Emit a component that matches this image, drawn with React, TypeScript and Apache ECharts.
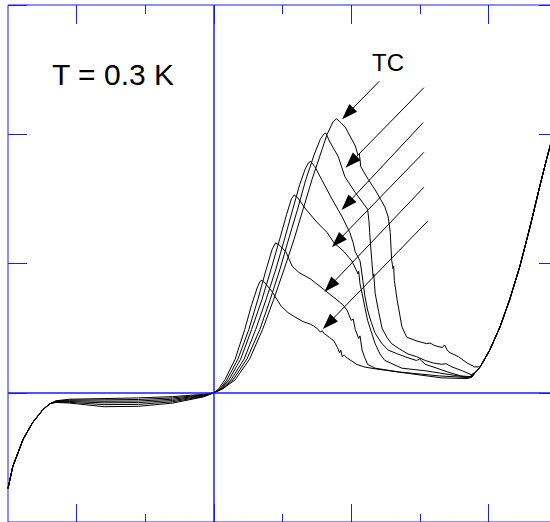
import React, { useEffect, useRef } from 'react';
import * as echarts from 'echarts';

const X_MIN = -3;
const X_MAX = 5;
const Y_MIN = -1;
const Y_MAX = 3;
const majorXTicks = [-2, 0, 2, 4];
const minorXTicks = [-1, 1, 3];

const titleText = 'T = 0.3 K';
const arrowLabel = 'TC';

// shared steep branch on the negative side
const leftBranch: number[][] = [
  [-3.0, -0.74], [-2.93, -0.57], [-2.78, -0.36], [-2.64, -0.23], [-2.49, -0.13], [-2.39, -0.085],
];

// flat (gap) region, per curve
const flat1 = [[-2.3, -0.075], [-2.1, -0.08], [-1.6, -0.108], [-1.1, -0.105], [-0.6, -0.08], [-0.15, -0.032], [0, 0]];
const flat2 = [[-2.3, -0.072], [-2.1, -0.074], [-1.6, -0.092], [-1.1, -0.09], [-0.6, -0.07], [-0.15, -0.028], [0, 0]];
const flat3 = [[-2.3, -0.07], [-2.1, -0.068], [-1.6, -0.078], [-1.1, -0.076], [-0.6, -0.06], [-0.15, -0.024], [0, 0]];
const flat4 = [[-2.3, -0.068], [-2.1, -0.062], [-1.6, -0.066], [-1.1, -0.064], [-0.6, -0.05], [-0.15, -0.02], [0, 0]];
const flat5 = [[-2.3, -0.065], [-2.1, -0.056], [-1.6, -0.055], [-1.1, -0.052], [-0.6, -0.04], [-0.15, -0.016], [0, 0]];
const flat6 = [[-2.3, -0.062], [-2.1, -0.05], [-1.6, -0.045], [-1.1, -0.04], [-0.6, -0.03], [-0.15, -0.012], [0, 0]];

// coherence peak region, per curve
const peak1 = [
  [0.13, 0.03], [0.31, 0.1], [0.52, 0.26], [0.71, 0.49], [0.87, 0.72], [1.02, 0.95], [1.17, 1.19], [1.3, 1.42],
  [1.43, 1.65], [1.55, 1.84], [1.65, 2.0], [1.74, 2.1], [1.79, 2.12], [1.85, 2.09], [1.92, 2.05], [2.06, 1.91],
  [2.1, 1.84], [2.12, 1.85], [2.14, 1.75], [2.25, 1.65], [2.35, 1.57], [2.49, 1.44], [2.54, 1.36], [2.57, 1.24],
  [2.59, 1.03], [2.61, 0.96], [2.62, 0.98], [2.63, 0.87], [2.67, 0.72], [2.71, 0.6], [2.74, 0.51], [2.81, 0.43],
  [2.96, 0.4], [3.1, 0.38], [3.15, 0.385], [3.2, 0.37], [3.25, 0.36], [3.33, 0.35], [3.36, 0.37], [3.4, 0.33],
  [3.44, 0.31], [3.56, 0.28], [3.69, 0.23], [3.8, 0.2], [3.88, 0.2],
];
const peak2 = [
  [0.12, 0.03], [0.28, 0.1], [0.48, 0.26], [0.67, 0.49], [0.82, 0.72], [0.96, 0.95], [1.09, 1.19], [1.22, 1.42],
  [1.34, 1.65], [1.46, 1.84], [1.55, 1.96], [1.6, 2.0], [1.63, 2.01], [1.69, 1.94], [1.81, 1.83], [1.91, 1.67],
  [2.06, 1.55], [2.17, 1.47], [2.24, 1.42], [2.26, 1.33], [2.27, 1.24], [2.3, 1.03], [2.32, 0.9], [2.33, 0.92],
  [2.35, 0.77], [2.4, 0.63], [2.45, 0.5], [2.52, 0.43], [2.59, 0.38], [2.7, 0.34], [2.83, 0.3], [2.95, 0.28],
  [3.08, 0.25], [3.2, 0.23], [3.32, 0.22], [3.38, 0.225], [3.47, 0.2], [3.62, 0.17], [3.75, 0.14], [3.82, 0.16],
];
const peak3 = [
  [0.11, 0.03], [0.25, 0.1], [0.44, 0.26], [0.61, 0.49], [0.76, 0.72], [0.9, 0.95], [1.03, 1.19], [1.15, 1.42],
  [1.25, 1.61], [1.33, 1.73], [1.38, 1.78], [1.41, 1.79], [1.47, 1.75], [1.57, 1.65], [1.72, 1.5], [1.87, 1.36],
  [1.98, 1.24], [2.03, 1.16], [2.06, 1.09], [2.13, 1.02], [2.15, 0.95], [2.17, 0.87], [2.2, 0.75], [2.24, 0.64],
  [2.29, 0.55], [2.35, 0.46], [2.45, 0.38], [2.54, 0.33], [2.68, 0.3], [2.83, 0.27], [2.95, 0.25], [3.0, 0.26],
  [3.03, 0.245], [3.08, 0.22], [3.25, 0.19], [3.41, 0.16], [3.6, 0.13], [3.73, 0.125], [3.8, 0.15],
];
const peak4 = [
  [0.1, 0.03], [0.22, 0.1], [0.39, 0.26], [0.55, 0.49], [0.7, 0.72], [0.83, 0.95], [0.96, 1.19], [1.06, 1.38],
  [1.13, 1.5], [1.17, 1.53], [1.22, 1.51], [1.34, 1.42], [1.5, 1.32], [1.65, 1.24], [1.75, 1.16], [1.9, 1.09],
  [2.01, 1.02], [2.1, 0.92], [2.11, 0.94], [2.13, 0.84], [2.16, 0.77], [2.2, 0.66], [2.24, 0.56], [2.3, 0.46],
  [2.35, 0.38], [2.42, 0.3], [2.49, 0.25], [2.74, 0.19], [3.08, 0.17], [3.44, 0.14], [3.69, 0.12], [3.76, 0.127],
  [3.8, 0.15],
];
const peak5 = [
  [0.09, 0.03], [0.19, 0.1], [0.35, 0.26], [0.51, 0.49], [0.64, 0.72], [0.76, 0.95], [0.85, 1.11], [0.9, 1.16],
  [0.96, 1.14], [1.05, 1.09], [1.14, 0.98], [1.24, 0.93], [1.41, 0.88], [1.6, 0.8], [1.79, 0.72], [1.88, 0.68],
  [1.94, 0.64], [2.0, 0.56], [2.03, 0.57], [2.06, 0.49], [2.11, 0.42], [2.13, 0.44], [2.16, 0.33], [2.2, 0.27],
  [2.24, 0.22], [2.35, 0.19], [2.71, 0.16], [3.29, 0.13], [3.69, 0.118], [3.76, 0.125], [3.8, 0.15],
];
const peak6 = [
  [0.07, 0.03], [0.16, 0.1], [0.31, 0.26], [0.45, 0.49], [0.55, 0.68], [0.63, 0.81], [0.67, 0.86], [0.7, 0.87],
  [0.76, 0.84], [0.85, 0.78], [0.98, 0.67], [1.08, 0.62], [1.17, 0.59], [1.3, 0.55], [1.41, 0.53], [1.5, 0.5],
  [1.55, 0.47], [1.58, 0.48], [1.6, 0.46], [1.68, 0.43], [1.75, 0.4], [1.8, 0.35], [1.83, 0.31], [1.85, 0.33],
  [1.87, 0.28], [1.9, 0.29], [1.94, 0.27], [2.08, 0.22], [2.19, 0.2], [2.35, 0.185], [2.83, 0.15], [3.32, 0.115],
  [3.69, 0.11], [3.76, 0.12], [3.8, 0.15],
];

// shared steep branch on the positive side
const rightBranch: number[][] = [
  [3.88, 0.2], [4.02, 0.33], [4.17, 0.51], [4.31, 0.72], [4.46, 0.98], [4.61, 1.29], [4.75, 1.6], [4.85, 1.81],
  [4.9, 1.91], [5.0, 2.14],
];

// annotation arrows: [start, head centre]
const arrowStarts = [[2.41, 2.41], [3.06, 2.36], [3.05, 2.09], [3.06, 1.86], [3.06, 1.59], [3.12, 1.33]];
const arrowEnds = [[1.95, 2.16], [2.0, 1.785], [1.94, 1.46], [1.8, 1.17], [1.69, 0.825], [1.67, 0.537]];

const flats = [flat1, flat2, flat3, flat4, flat5, flat6];
const peaks = [peak1, peak2, peak3, peak4, peak5, peak6];

const BLUE = '#1a1aff';

export default function App() {
  const ref = useRef<HTMLDivElement>(null);

  useEffect(() => {
    if (!ref.current) return;
    const chart = echarts.init(ref.current, null, { renderer: 'svg' });

    const curveSeries = flats.map((f, i) => {
      const data = [...leftBranch, ...f, ...peaks[i], ...rightBranch];
      return {
        type: 'line',
        name: 'c' + (i + 1),
        data,
        xAxisIndex: 0,
        yAxisIndex: 0,
        showSymbol: false,
        symbol: 'none',
        lineStyle: { color: '#000', width: 1 },
        silent: true,
        z: 3,
      } as any;
    });

    const arrowLines = arrowStarts.map((s, i) => [
      { coord: s, symbol: 'none' },
      { coord: arrowEnds[i], symbol: 'triangle', symbolSize: [11, 16] },
    ]);

    const markerSeries = {
      type: 'line',
      data: [],
      xAxisIndex: 0,
      yAxisIndex: 0,
      silent: true,
      markLine: {
        silent: true,
        animation: false,
        symbol: 'none',
        label: { show: false },
        emphasis: { disabled: true },
        lineStyle: { color: '#000', width: 1, type: 'solid' },
        data: [
          { xAxis: 0, lineStyle: { color: BLUE, width: 1.5, type: 'solid' } },
          { yAxis: 0, lineStyle: { color: BLUE, width: 1.5, type: 'solid' } },
          ...arrowLines,
        ],
      },
    } as any;

    const xBase = {
      type: 'value',
      min: X_MIN,
      max: X_MAX,
      axisLine: { show: false, onZero: false },
      axisLabel: { show: false },
      splitLine: { show: false },
    };
    const yBase = {
      type: 'value',
      min: Y_MIN,
      max: Y_MAX,
      interval: 1,
      axisLine: { show: false, onZero: false },
      axisLabel: { show: false },
      splitLine: { show: false },
      axisTick: { show: true, inside: true, length: 19, lineStyle: { color: BLUE, width: 1 } },
    };

    chart.setOption({
      animation: false,
      backgroundColor: '#fff',
      grid: {
        left: 8,
        top: 5,
        width: 549,
        height: 517,
        show: true,
        borderColor: BLUE,
        borderWidth: 1,
        backgroundColor: 'transparent',
        containLabel: false,
        outerBoundsMode: 'none',
      },
      xAxis: [
        { ...xBase, position: 'bottom', axisTick: { show: true, inside: true, length: 18, customValues: majorXTicks, lineStyle: { color: BLUE } } },
        { ...xBase, position: 'bottom', axisTick: { show: true, inside: true, length: 8, customValues: minorXTicks, lineStyle: { color: BLUE } } },
        { ...xBase, position: 'top', axisTick: { show: true, inside: true, length: 19, customValues: majorXTicks, lineStyle: { color: BLUE } } },
        { ...xBase, position: 'top', axisTick: { show: true, inside: true, length: 9, customValues: minorXTicks, lineStyle: { color: BLUE } } },
      ],
      yAxis: [
        { ...yBase, position: 'left' },
        { ...yBase, position: 'right', axisTick: { ...yBase.axisTick, length: 18 } },
      ],
      graphic: [
        {
          type: 'text',
          x: 52,
          y: 74,
          silent: true,
          style: {
            text: titleText,
            font: '30px "Liberation Sans", Arial, sans-serif',
            fill: '#000',
            align: 'left',
            verticalAlign: 'middle',
          },
        },
        {
          type: 'text',
          x: 388,
          y: 62,
          silent: true,
          style: {
            text: arrowLabel,
            font: '24px "Liberation Sans", Arial, sans-serif',
            fill: '#000',
            align: 'center',
            verticalAlign: 'middle',
          },
        },
      ],
      series: [...curveSeries, markerSeries],
    });

    return () => chart.dispose();
  }, []);

  return (
    <div
      ref={ref}
      style={{ position: 'fixed', left: 0, top: 0, width: 550, height: 522, background: '#fff' }}
    />
  );
}
